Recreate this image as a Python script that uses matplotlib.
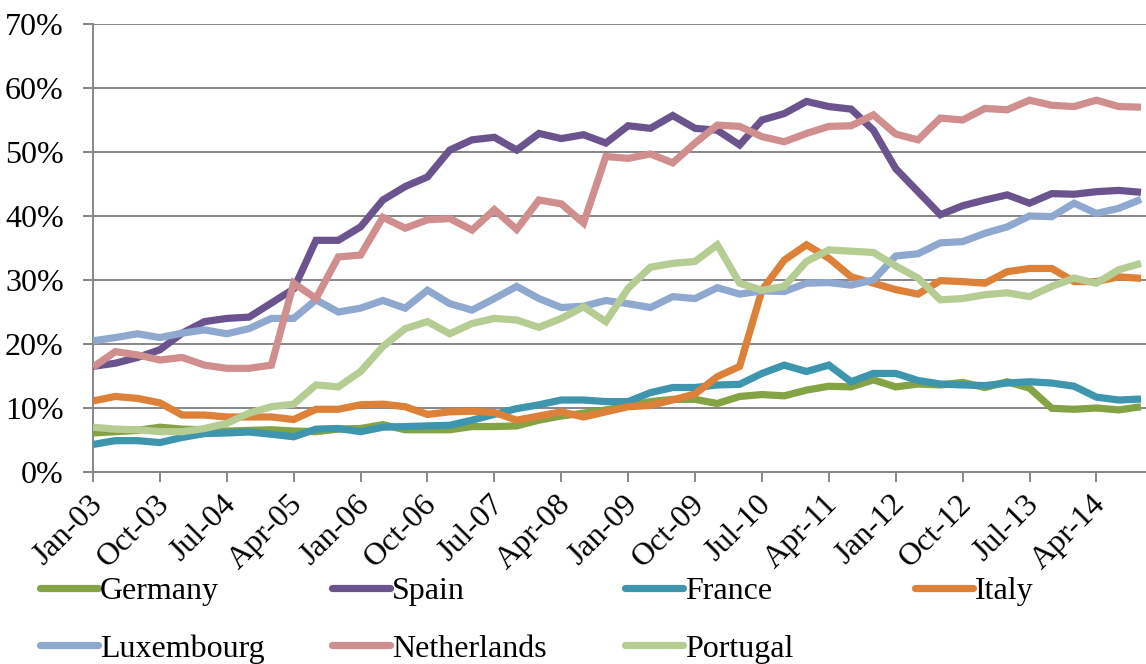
import matplotlib
matplotlib.use("Agg")
import matplotlib.pyplot as plt
import matplotlib.transforms as mtransforms
import pandas as pd

plt.rcParams['font.family'] = ['Liberation Serif', 'DejaVu Serif']

dates = pd.date_range('2003-01-01', '2014-10-01', freq='QS')
tick_labels = [d.strftime('%b-%y') for d in dates]

germany = [6.1, 6.3, 6.5, 7.0, 6.7, 6.6, 6.4, 6.5, 6.6, 6.4, 6.3, 6.7, 6.8, 7.4,
           6.6, 6.6, 6.6, 7.1, 7.1, 7.2, 8.1, 8.75, 9.2, 9.7, 10.3, 11.0, 11.35, 11.35,
           10.7, 11.8, 12.1, 11.9, 12.8, 13.4, 13.3, 14.4, 13.3, 13.75, 13.6, 14.0,
           13.2, 14.1, 13.1, 9.95, 9.8, 10.0, 9.7, 10.2]
spain = [16.5, 17.0, 17.9, 19.1, 21.7, 23.5, 24.0, 24.2, 26.4, 28.6, 36.2, 36.2,
         38.3, 42.5, 44.6, 46.1, 50.3, 51.9, 52.3, 50.3, 52.9, 52.1, 52.7, 51.4,
         54.1, 53.7, 55.7, 53.7, 53.4, 51.1, 55.0, 56.0, 57.9, 57.1, 56.7, 53.4,
         47.4, 43.8, 40.2, 41.6, 42.5, 43.3, 42.0, 43.5, 43.4, 43.8, 44.0, 43.7]
france = [4.3, 4.9, 4.9, 4.6, 5.4, 6.0, 6.1, 6.25, 5.9, 5.5, 6.7, 6.8, 6.3, 7.0,
          7.1, 7.2, 7.3, 8.1, 9.0, 9.9, 10.5, 11.25, 11.25, 11.0, 11.0, 12.4, 13.2,
          13.2, 13.6, 13.7, 15.4, 16.7, 15.7, 16.7, 14.1, 15.4, 15.4, 14.3, 13.75,
          13.6, 13.5, 13.9, 14.1, 13.9, 13.4, 11.7, 11.25, 11.4]
italy = [11.1, 11.8, 11.5, 10.8, 8.9, 8.9, 8.6, 8.6, 8.6, 8.2, 9.8, 9.8, 10.5, 10.6,
         10.2, 9.0, 9.4, 9.5, 9.3, 8.1, 8.75, 9.4, 8.6, 9.4, 10.2, 10.4, 11.25, 12.2,
         14.9, 16.5, 28.4, 33.1, 35.5, 33.4, 30.5, 29.5, 28.5, 27.8, 29.9, 29.75,
         29.5, 31.3, 31.8, 31.8, 29.75, 29.75, 30.5, 30.25]
luxembourg = [20.5, 21.0, 21.6, 21.0, 21.7, 22.2, 21.6, 22.4, 24.0, 24.0, 26.9, 25.0,
              25.6, 26.8, 25.6, 28.4, 26.3, 25.3, 27.1, 29.0, 27.1, 25.7, 25.9, 26.8,
              26.3, 25.7, 27.4, 27.1, 28.8, 27.8, 28.3, 28.2, 29.5, 29.6, 29.2, 30.0,
              33.75, 34.1, 35.8, 36.0, 37.3, 38.3, 40.0, 39.9, 42.0, 40.4, 41.2, 42.6]
netherlands = [16.4, 18.8, 18.3, 17.5, 17.9, 16.7, 16.2, 16.2, 16.7, 29.5, 27.1, 33.6,
               33.9, 39.8, 38.1, 39.4, 39.6, 37.8, 41.0, 37.9, 42.5, 41.9, 38.9, 49.3,
               49.0, 49.7, 48.3, 51.4, 54.2, 54.0, 52.4, 51.6, 52.9, 54.0, 54.1, 55.8,
               52.8, 51.9, 55.3, 55.0, 56.8, 56.6, 58.1, 57.3, 57.1, 58.1, 57.1, 57.0]
portugal = [7.0, 6.7, 6.6, 6.3, 6.3, 6.8, 7.6, 9.2, 10.2, 10.6, 13.6, 13.3, 15.7, 19.6,
            22.4, 23.5, 21.6, 23.2, 24.0, 23.75, 22.6, 24.0, 25.8, 23.5, 28.7, 32.0,
            32.6, 32.9, 35.5, 29.5, 28.4, 29.0, 32.9, 34.7, 34.5, 34.3, 32.2, 30.3,
            26.9, 27.1, 27.7, 28.0, 27.4, 29.0, 30.3, 29.5, 31.6, 32.6]

series = [
    ('Germany', germany, '#84A345'),
    ('Spain', spain, '#6B548E'),
    ('France', france, '#3E96AE'),
    ('Italy', italy, '#DD8139'),
    ('Luxembourg', luxembourg, '#8FA8D0'),
    ('Netherlands', netherlands, '#D08F8E'),
    ('Portugal', portugal, '#B5CC93'),
]

W, H = 1146, 664
fig = plt.figure(figsize=(W / 100, H / 100), dpi=100)
ax = fig.add_axes([93 / W, 1 - 472 / H, (W - 93) / W, (472 - 24) / H])

x = list(range(len(dates)))
handles = {}
for name, vals, col in series:
    ln, = ax.plot(x, [v / 100 for v in vals], color=col, lw=5.2,
                  solid_joinstyle='miter', solid_capstyle='butt', label=name, zorder=3)
    handles[name] = ln

grid_c = '#868686'
ax.set_ylim(0, 0.7)
ax.set_yticks([i / 10 for i in range(8)])
ax.set_yticklabels([f'{i * 10}%' for i in range(8)])
ax.set_xlim(0, 47 * (W - 93) / (1141 - 93))
ax.set_xticks(x[::3])
ax.set_xticklabels(tick_labels[::3], rotation=45, ha='right', va='center',
                   rotation_mode='anchor')
ax.yaxis.grid(True, color=grid_c, lw=1.4)
ax.set_axisbelow(True)
for s in ['top', 'right']:
    ax.spines[s].set_visible(False)
for s in ['left', 'bottom']:
    ax.spines[s].set_color(grid_c)
    ax.spines[s].set_linewidth(1.4)
ax.tick_params(axis='y', length=7, width=1.4, color=grid_c, labelsize=23, pad=14)
ax.tick_params(axis='x', length=7, width=1.4, color=grid_c, labelsize=23, pad=8)
shift = mtransforms.ScaledTranslation(0.05, -0.07, fig.dpi_scale_trans)
for lab in ax.get_xticklabels():
    lab.set_transform(lab.get_transform() + shift)

# legend: four columns
cols_x = [40 / W, 332 / W, 625 / W, 915 / W]
groups = [['Germany', 'Luxembourg'], ['Spain', 'Netherlands'], ['France', 'Portugal'], ['Italy']]
for gx, names in zip(cols_x, groups):
    leg = fig.legend([handles[n] for n in names], names, loc='upper left',
                     bbox_to_anchor=(gx, 1 - 577 / H), frameon=False, fontsize=23,
                     handlelength=1.8, handletextpad=0.08, borderpad=0, borderaxespad=0,
                     labelspacing=0.87)
    for lh in leg.get_lines():
        lh.set_solid_capstyle('round')

fig.savefig('out.png', dpi=100)
